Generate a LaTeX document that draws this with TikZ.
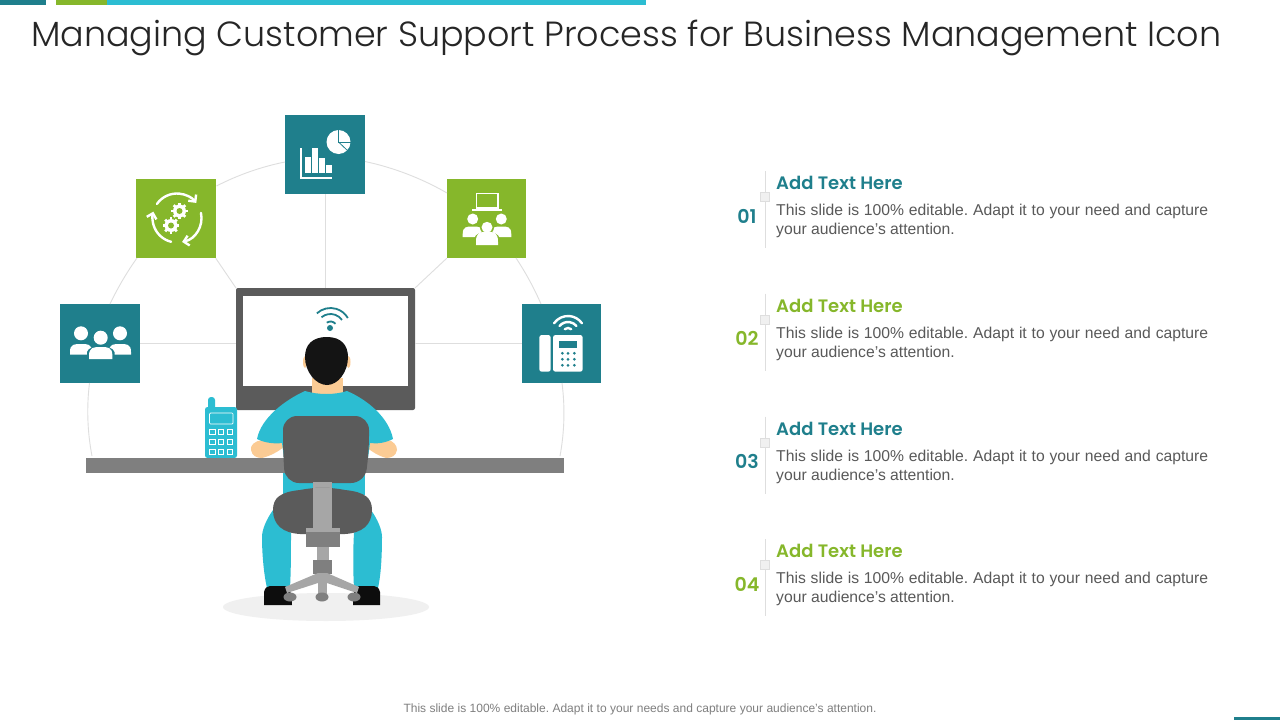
\documentclass[tikz,border=0pt]{standalone}
\usepackage{fontspec}
\usepackage{graphicx}
\usetikzlibrary{arrows.meta}
\setmainfont{Liberation Sans}
\newfontfamily\titlefont{Poppins}[UprightFont=* Light]
\newfontfamily\numfont{Poppins}[UprightFont=* SemiBold]
\definecolor{tealc}{HTML}{1F7F8C}
\definecolor{greenc}{HTML}{86B72B}
\definecolor{cyanc}{HTML}{2CBDD2}
\definecolor{darkc}{HTML}{5B5B5B}
\definecolor{midc}{HTML}{7F7F7F}
\definecolor{lightc}{HTML}{A6A6A6}
\definecolor{skinc}{HTML}{FBCB94}
\definecolor{linkc}{HTML}{DEDEDE}
\definecolor{bodyc}{HTML}{595959}
\tikzset{
  iconbox/.style={draw=none,minimum size=79.5pt,inner sep=0pt,outer sep=0pt},
  link/.style={draw=linkc,line width=0.9pt},
  arcwhite/.style={white,line width=2.4pt,line cap=round},
  listnum/.style={anchor=base,inner sep=0pt,font=\numfont\fontsize{19}{22}\selectfont},
  listhead/.style={anchor=base west,inner sep=0pt,font=\numfont\fontsize{18}{22}\selectfont},
  listbody/.style={anchor=north west,inner sep=0pt,align=left,text=bodyc,font=\fontsize{15.7}{19}\selectfont},
  tick/.style={draw=linkc,fill=black!6,line width=0.6pt,minimum size=9pt,inner sep=0pt},
}
\frenchspacing
% arc in screen angles (clockwise from east): cx, cy, r, a, b
\newcommand\sarc[5]{({#1+#3*cos(#4)},{#2+#3*sin(#4)}) arc[start angle={-(#4)},end angle={-(#5)},radius=#3pt]}
% person: cx, head cy, head r, half width, body top, body bottom
\newcommand\person[6]{%
  \fill (#1,#2) circle[radius=#3];
  \fill ({#1-#4},#6) -- ({#1-#4},{#6-0.25*(#6-#5)}) .. controls ({#1-#4},#5) and ({#1-0.6*#4},#5) .. (#1,#5)
     .. controls ({#1+0.6*#4},#5) and ({#1+#4},#5) .. ({#1+#4},{#6-0.25*(#6-#5)}) -- ({#1+#4},#6) -- cycle;}
\newcommand\entry[4]{%
  \coordinate (t#1) at (765,#2);
  \coordinate (b#1) at (765,#2+77);
  \draw[link] (t#1) -- (b#1);
  \node[tick] (k#1) at (764.5,#2+26) {};
  \node[listnum,text=#3] (n#1) at (747,#2+52) {#4};
  \node[listhead,text=#3] (h#1) at (776,#2+18.5) {Add Text Here};
  \node[listbody] (d#1) at (776,#2+33) {\makebox[432pt][s]{This slide is 100\% editable. Adapt it to your need and capture}\\your audience’s attention.};
}
\begin{document}
\begin{tikzpicture}[x=1pt,y=-1pt]
\useasboundingbox (0,0) rectangle (1280,720);
\fill[white] (0,0) rectangle (1280,720);
% top bars
\fill[tealc] (0,0) rectangle (46,5);
\fill[greenc] (56,0) rectangle (107,5);
\fill[cyanc] (107,0) rectangle (646,5);
\fill[tealc] (1234,717) rectangle (1280,720);
% title
\node[anchor=base west,inner sep=0pt,text=black!85] (title) at (31,46) {\resizebox{1190pt}{!}{\titlefont\fontsize{38}{40}\selectfont Managing Customer Support Process for Business Management Icon}};
% footer
\node[anchor=base,inner sep=0pt,text=midc,font=\fontsize{12}{14}\selectfont] (foot) at (640,712) {\makebox[473pt][s]{This slide is 100\% editable. Adapt it to your needs and capture your audience's attention.}};
% shadow
\fill[black!6] (326,607) ellipse[x radius=103,y radius=14];
% icon boxes
\node[iconbox,fill=tealc] (chart) at (325,154.5) {};
\node[iconbox,fill=greenc] (gears) at (176,218.5) {};
\node[iconbox,fill=greenc] (laptop) at (486.5,218.5) {};
\node[iconbox,fill=tealc] (people) at (100,343.5) {};
\node[iconbox,fill=tealc] (phone) at (561.5,343.5) {};
\node[draw=none,fill=darkc,rounded corners=2pt,minimum width=179pt,minimum height=122pt,inner sep=0pt,outer sep=0pt] (monitor) at (325.5,349) {};
\node[draw=none,fill=white,minimum width=165pt,minimum height=90pt,inner sep=0pt] (screen) at (325.5,341) {};
% ring coordinates
\coordinate (g1) at (216.5,186);
\coordinate (c1) at (285,162);
\coordinate (c2) at (365,161.5);
\coordinate (l1) at (447,193);
\coordinate (l2) at (516,258);
\coordinate (f1) at (541,304);
\coordinate (f2) at (562,383);
\coordinate (e2) at (560,456);
\coordinate (p1) at (110,304);
\coordinate (g2) at (137,258);
\coordinate (p2) at (89.5,383);
\coordinate (e1) at (92,456);
\draw[link] (g1) to[bend left=8,looseness=.85] (c1);
\draw[link] (c2) to[bend left=9,looseness=.85] (l1);
\draw[link] (l2) to[bend left=5,looseness=.85] (f1);
\draw[link] (f2) to[bend left=9,looseness=.85] (e2);
\draw[link] (p1) to[bend left=5,looseness=.85] (g2);
\draw[link] (e1) to[bend left=9,looseness=.85] (p2);
\draw[link] (chart.south) -- (monitor.north-|chart.south);
\draw[link] (people.east) -- (people.east-|monitor.west);
\draw[link] (phone.west) -- (phone.west-|monitor.east);
\draw[link] (gears.south east) -- (monitor.north west);
\draw[link] (laptop.south west) -- (monitor.north east);
% chart glyph
\begin{scope}[white]
\fill (300,148) rectangle (301.8,179);
\fill (300,177.2) rectangle (332,179);
\fill (305,157) rectangle (310.5,173);
\fill (312,148) rectangle (317.5,173);
\fill (319,158) rectangle (324.5,173);
\fill (326,165) rectangle (331.5,173);
\fill (338.5,142) circle[radius=12];
\draw[tealc,line width=.8pt] (338.5,130) -- (338.5,142) -- (350.5,142);
\draw[tealc,line width=.8pt] (338.5,142) -- (348,151);
\end{scope}
% gears glyph
\draw[arcwhite,-{Straight Barb[length=5pt,width=10pt]}] \sarc{177}{218}{24.5}{-145}{-38};
\draw[arcwhite,-{Straight Barb[length=5pt,width=10pt]}] \sarc{177}{218}{24.5}{-12}{78};
\draw[arcwhite,-{Straight Barb[length=5pt,width=10pt]}] \sarc{177}{218}{24.5}{104}{195};
\foreach \gx/\gy in {179.5/211,171/225.5}{
  \foreach \a in {0,45,...,315}
    \draw[white,line width=2.6pt] ({\gx+5*cos(\a)},{\gy+5*sin(\a)}) -- ({\gx+8.3*cos(\a)},{\gy+8.3*sin(\a)});
  \fill[white] (\gx,\gy) circle[radius=6.5];
  \fill[greenc] (\gx,\gy) circle[radius=3];
}
% laptop glyph
\begin{scope}[white]
\draw[line width=1.2pt] (476.3,193.5) rectangle (498,208);
\fill (472,209) rectangle (502,210.8);
\person{472.7}{219}{5.5}{10}{226.5}{237}
\person{501.3}{219}{5.5}{10}{226.5}{237}
\fill[greenc] (487,227.3) circle[radius=7];
\fill[greenc] (474.5,246) -- (474.5,238) .. controls (476,230) and (498,230) .. (499.5,238) -- (499.5,246) -- cycle;
\person{487}{227.3}{5.5}{11}{232}{245}
\end{scope}
% people glyph
\begin{scope}[white]
\person{81}{333.3}{7}{11}{344}{354.5}
\person{120}{333.3}{7}{11}{344}{354.5}
\fill[tealc] (100.7,337.7) circle[radius=8.5];
\fill[tealc] (87,360) -- (87,352) .. controls (89,344) and (112,344) .. (114.5,352) -- (114.5,360) -- cycle;
\person{100.7}{337.7}{7}{11.7}{347}{359}
\end{scope}
% phone glyph
\fill[white,rounded corners=2.5pt] (539.3,335) rectangle (550.7,371.7);
\fill[white,rounded corners=2.5pt] (553,335) rectangle (582.7,371.7);
\fill[tealc] (559,340.7) rectangle (577.3,348.3);
\foreach \dx in {562.3,568,574.3}\foreach \dy in {353.3,359.3,365.3}\fill[tealc] (\dx,\dy) circle[radius=1.5];
\draw[arcwhite] \sarc{568}{333}{17}{-145}{-35};
\draw[arcwhite] \sarc{568}{333}{11}{-140}{-40};
\draw[arcwhite] \sarc{568}{333}{5}{-130}{-50};
% monitor wifi
\draw[tealc,line width=1.8pt] \sarc{330.5}{328}{20}{-133}{-30};
\draw[tealc,line width=1.8pt] \sarc{330.5}{328}{14}{-130}{-35};
\draw[tealc,line width=1.8pt] \sarc{330.5}{328}{6.5}{-125}{-40};
\fill[tealc] (330,328) circle[radius=3];
% handset
\fill[cyanc,rounded corners=3pt] (208,397) rectangle (215,410);
\fill[cyanc,rounded corners=2.5pt] (205,407) rectangle (237,458);
\draw[white,line width=.7pt,rounded corners=1pt] (209.5,413) rectangle (233,424);
\foreach \dx in {209.5,218,227}\foreach \dy in {429.5,439.5,449.5}\draw[white,line width=.7pt] (\dx,\dy) rectangle +(5.5,5);
% legs
\fill[cyanc] (273,510) .. controls (266,520) and (262,530) .. (262,537) .. controls (262,555) and (264,575) .. (267,588) -- (290,588) .. controls (291,570) and (291,550) .. (291,533) -- cycle;
\fill[cyanc] (371,510) .. controls (378,520) and (382,530) .. (382,537) .. controls (382,555) and (381,575) .. (378,588) -- (354,588) .. controls (353,570) and (353,550) .. (354,533) -- cycle;
\fill[cyanc] (283,470) rectangle (365,495);
% shoes
\fill[black!95] (264,605) -- (264,592) .. controls (265,588) and (267,586) .. (270,586) -- (285,586) .. controls (289,587) and (292,592) .. (292,605) -- cycle;
\fill[black!95] (380,605) -- (380,592) .. controls (379,588) and (377,586) .. (374,586) -- (359,586) .. controls (355,587) and (353,592) .. (353,605) -- cycle;
% neck, ears, head
\fill[skinc] (305,362) ellipse[x radius=2,y radius=6];
\fill[skinc] (348.5,362) ellipse[x radius=2,y radius=6];
\fill[skinc] (312,378) rectangle (343,396);
\fill[black!92] (327,337) .. controls (312,337) and (305,345) .. (305,357) .. controls (305,372) and (316,385) .. (327,385) .. controls (338,385) and (348,372) .. (348,357) .. controls (348,345) and (341,337) .. (327,337) -- cycle;
% hands
\fill[skinc] (262,440) .. controls (255,441) and (250,445) .. (251,450) .. controls (252,456) and (257,458) .. (262,458) .. controls (270,456) and (278,452) .. (285,446) -- (280,438) -- cycle;
\fill[skinc] (388,440) .. controls (393,441) and (397,445) .. (397,450) .. controls (396,456) and (391,458) .. (386,458) .. controls (379,456) and (372,452) .. (365,446) -- (370,438) -- cycle;
% table
\fill[midc] (86,458) rectangle (564,473);
% shirt
\fill[cyanc] (305,391) .. controls (318,395) and (335,395) .. (347,391) .. controls (368,400) and (389,418) .. (393,439) .. controls (385,443) and (377,444) .. (370,443) -- (368,458) -- (284,458) -- (282,443) .. controls (275,444) and (265,443) .. (257,439) .. controls (261,418) and (285,400) .. (305,391) -- cycle;
% chair
\fill[darkc,rounded corners=14pt] (283,416) -- (369,416) -- (369,450) -- (365,483) -- (285,483) -- (283,450) -- cycle;
\fill[lightc] (313,482) rectangle (332,530);
\fill[darkc] (300,490) .. controls (280,492) and (273,498) .. (273,510) .. controls (273,525) and (283,533) .. (300,534) -- (345,534) .. controls (362,533) and (372,525) .. (372,510) .. controls (372,498) and (365,492) .. (345,490) .. controls (330,487) and (315,487) .. (300,490) -- cycle;
\fill[lightc] (313,488) rectangle (332,530);
\fill[lightc] (306,528) rectangle (340,532);
\fill[midc] (306,532) rectangle (340,547);
\fill[lightc] (317,547) rectangle (329,560);
\fill[midc] (313,560) rectangle (332,574);
\fill[lightc] (318,573) -- (285,587) -- (287,593) -- (318,583) -- (327,583) -- (357,593) -- (359,587) -- (327,573) -- cycle;
\fill[lightc] (318,574) rectangle (327,595);
\fill[midc] (290,597) ellipse[x radius=6.5,y radius=4.5];
\fill[midc] (322,597) ellipse[x radius=6.5,y radius=4.5];
\fill[midc] (354,597) ellipse[x radius=6.5,y radius=4.5];
% list
\entry{1}{171}{tealc}{01}
\entry{2}{293.5}{greenc}{02}
\entry{3}{416.5}{tealc}{03}
\entry{4}{539}{greenc}{04}
\end{tikzpicture}
\end{document}
